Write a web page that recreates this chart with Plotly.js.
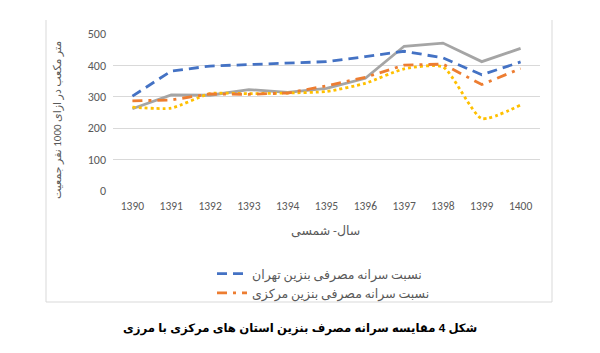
<!DOCTYPE html>
<html>
<head>
<meta charset="utf-8">
<script src="https://cdn.plot.ly/plotly-3.0.1.min.js"></script>
<style>html,body{margin:0;padding:0;background:#fff}#chart{width:600px;height:353px}</style>
</head>
<body>
<div id="chart"></div>
<script>
const years = ["1390","1391","1392","1393","1394","1395","1396","1397","1398","1399","1400"];
const tehran = [302, 382, 398, 402, 406, 412, 428, 445, 424, 370, 411];
const markazi = [287, 290, 309, 308, 312, 335, 362, 401, 404, 339, 390];
const series3 = [262, 306, 305, 323, 314, 327, 359, 461, 471, 412, 454];
const series4 = [267, 264, 310, 310, 312, 317, 343, 389, 395, 231, 274];
const names = ["نسبت سرانه مصرفی بنزین تهران", "نسبت سرانه مصرفی بنزین مرکزی", "سری ۳", "سری ۴"];
const yTitle = "متر مکعب در ازای 1000 نفر جمعیت";
const xTitle = "سال- شمسی";
const caption = "شکل 4 مقایسه سرانه مصرف بنزین استان های مرکزی با مرزی";

const font = "Calibri, Carlito, 'DejaVu Sans', sans-serif";
const traces = [
  {x: years, y: series3, name: names[2], mode: 'lines', showlegend: false,
   line: {color: '#A5A5A5', width: 2.8}},
  {x: years, y: series4, name: names[3], mode: 'lines', showlegend: false,
   line: {color: '#FFC000', width: 2.8, dash: 'dot', shape: 'spline', smoothing: 0.6}},
  {x: years, y: markazi, name: names[1], mode: 'lines', legendrank: 2,
   line: {color: '#ED7D31', width: 2.8, dash: '10px,6px,3px,6px'}},
  {x: years, y: tehran, name: names[0], mode: 'lines', legendrank: 1,
   line: {color: '#4472C4', width: 2.8, dash: '10px,6px'}}
];
const px = v => (v - 113) / 427;
const py = v => (191 - v) / 157;
const border = '#d9d9d9';
const layout = {
  width: 600, height: 353,
  margin: {l: 113, r: 60, t: 34, b: 162},
  paper_bgcolor: '#fff', plot_bgcolor: '#fff',
  font: {family: font, color: '#595959', size: 11},
  xaxis: {type: 'category', range: [-0.5, 10.5], showgrid: false, showline: false, zeroline: false,
    ticks: '', tickfont: {size: 11.5, color: '#595959'}, ticklabelstandoff: 6},
  yaxis: {range: [0, 500], dtick: 100, showgrid: true, gridcolor: '#d9d9d9', gridwidth: 1,
    zeroline: false, showline: false, ticks: '', tickfont: {size: 12, color: '#595959'}, ticklabelstandoff: 6},
  showlegend: true,
  legend: {x: px(212), y: py(259), xanchor: 'left', yanchor: 'top', bgcolor: 'rgba(0,0,0,0)',
    font: {size: 12.5, color: '#595959', family: font}, tracegroupgap: 0, itemwidth: 30, traceorder: 'normal'},
  annotations: [
    {text: yTitle, xref: 'paper', yref: 'paper', x: px(57), y: py(120), textangle: -90,
     showarrow: false, xanchor: 'center', yanchor: 'middle', font: {size: 11, color: '#595959'}},
    {text: xTitle, xref: 'paper', yref: 'paper', x: px(325), y: py(230),
     showarrow: false, xanchor: 'center', yanchor: 'middle', font: {size: 12.5, color: '#595959'}},
    {text: '<b>' + caption + '</b>', xref: 'paper', yref: 'paper', x: px(300), y: py(328),
     showarrow: false, xanchor: 'center', yanchor: 'middle',
     font: {size: 11.7, color: '#000', family: "'Liberation Sans', 'DejaVu Sans', sans-serif"}}
  ],
  shapes: [
    {type: 'line', xref: 'paper', yref: 'paper', x0: px(46), x1: px(46), y0: py(302), y1: py(20), line: {color: border, width: 1}},
    {type: 'line', xref: 'paper', yref: 'paper', x0: px(552), x1: px(552), y0: py(302), y1: py(20), line: {color: border, width: 1}},
    {type: 'line', xref: 'paper', yref: 'paper', x0: px(46), x1: px(552), y0: py(302), y1: py(302), line: {color: border, width: 1}}
  ]
};
Plotly.newPlot('chart', traces, layout, {displayModeBar: false, staticPlot: true});
</script>
</body>
</html>
